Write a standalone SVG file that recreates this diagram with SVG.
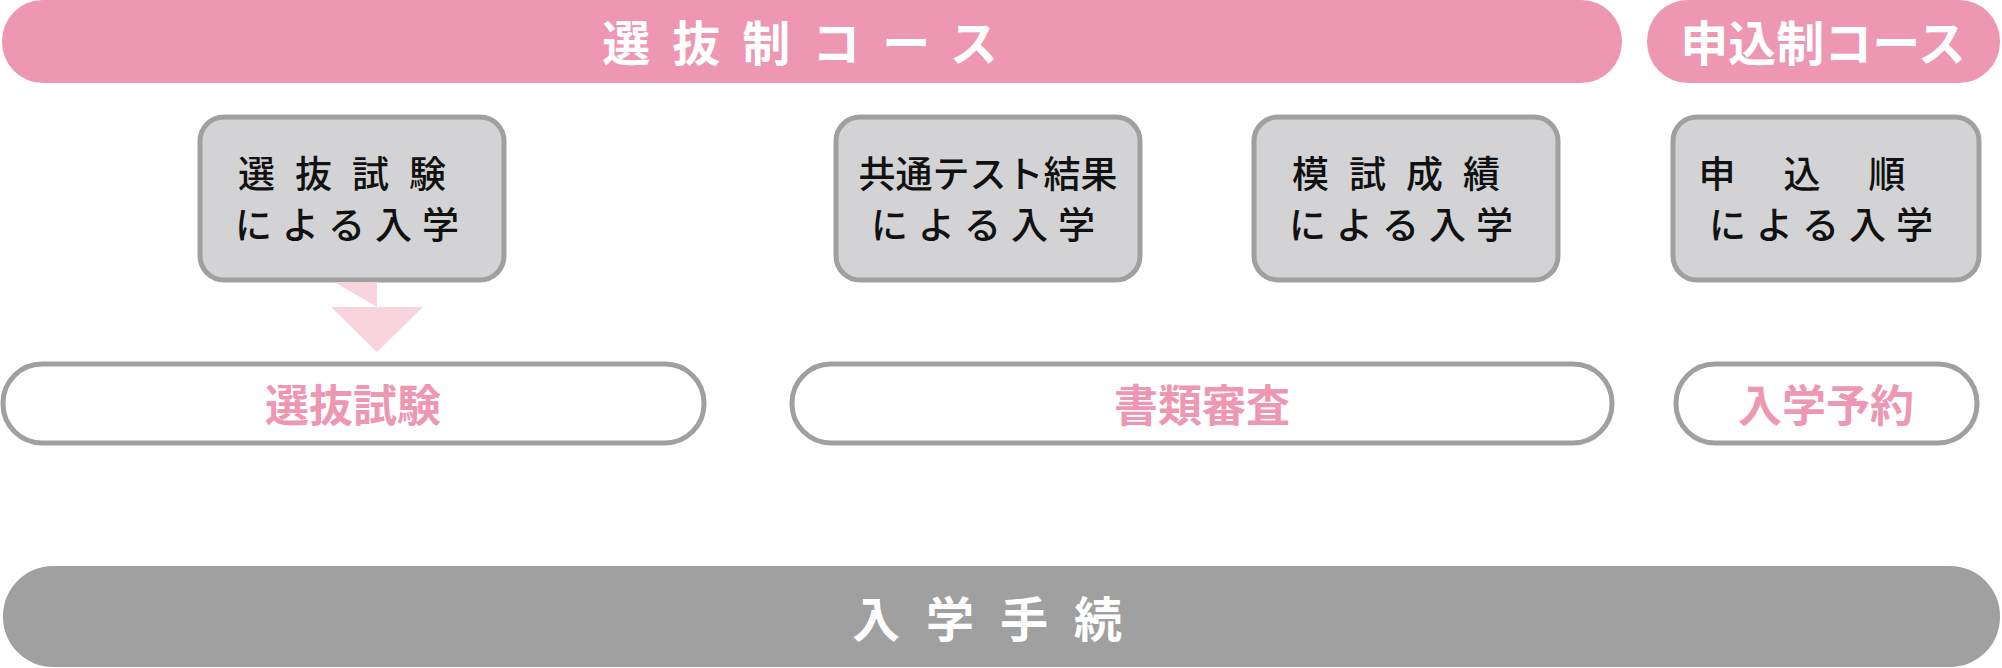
<svg xmlns="http://www.w3.org/2000/svg" width="2002" height="668" viewBox="0 0 2002 668">
<style>
.bar{fill:#ee97b2}
.box{fill:#d3d3d5;stroke:#a0a0a0;stroke-width:5}
.pill{fill:#fff;stroke:#a0a0a0;stroke-width:5}
.arr{fill:#f8d5de}
text{font-family:"Noto Sans CJK JP","Noto Sans CJK SC",sans-serif;text-anchor:middle;dominant-baseline:central}
.wt{fill:#fff;font-size:48px;font-weight:bold}
.bt{fill:#111;font-size:37px;font-weight:500}
.pt{fill:#ee97b2;font-size:44px;font-weight:bold}
</style>
<g id="course1"><rect class="bar" x="2" y="0" width="1620" height="83" rx="41"/><text class="wt" x="811" y="40" letter-spacing="22">選抜制コース</text></g>
<g id="course2"><rect class="bar" x="1647" y="0" width="353" height="83" rx="41"/><text class="wt" x="1823" y="40">申込制コース</text></g>
<g id="box1"><rect class="box" x="200" y="117" width="304" height="163" rx="24"/><text class="bt" x="352" y="172" letter-spacing="20">選抜試験</text><text class="bt" x="352" y="223" letter-spacing="10">による入学</text></g>
<g id="box2"><rect class="box" x="836" y="117" width="304" height="163" rx="24"/><text class="bt" x="988" y="172">共通テスト結果</text><text class="bt" x="988" y="223" letter-spacing="10">による入学</text></g>
<g id="box3"><rect class="box" x="1254" y="117" width="304" height="163" rx="24"/><text class="bt" x="1406" y="172" letter-spacing="20">模試成績</text><text class="bt" x="1406" y="223" letter-spacing="10">による入学</text></g>
<g id="box4"><rect class="box" x="1673" y="117" width="306" height="163" rx="24"/><text class="bt" x="1826" y="172" letter-spacing="48">申込順</text><text class="bt" x="1826" y="223" letter-spacing="10">による入学</text></g>
<g id="pill1"><rect class="pill" x="3" y="364" width="701" height="79" rx="39"/><text class="pt" x="353" y="403">選抜試験</text></g>
<g id="pill2"><rect class="pill" x="792" y="364" width="820" height="79" rx="39"/><text class="pt" x="1202" y="403">書類審査</text></g>
<g id="pill3"><rect class="pill" x="1676" y="364" width="301" height="79" rx="39"/><text class="pt" x="1826" y="403">入学予約</text></g>
<g id="final"><rect x="3" y="566" width="1997" height="101" rx="50" fill="#a0a0a0"/><text class="wt" x="1000" y="616" letter-spacing="26">入学手続</text></g>
<g id="connectors">
<path class="arr" d="M334 282h43v25h46l-46 45h-0l-46-45h46z" transform="translate(0,0)"/>
</g>
</svg>
